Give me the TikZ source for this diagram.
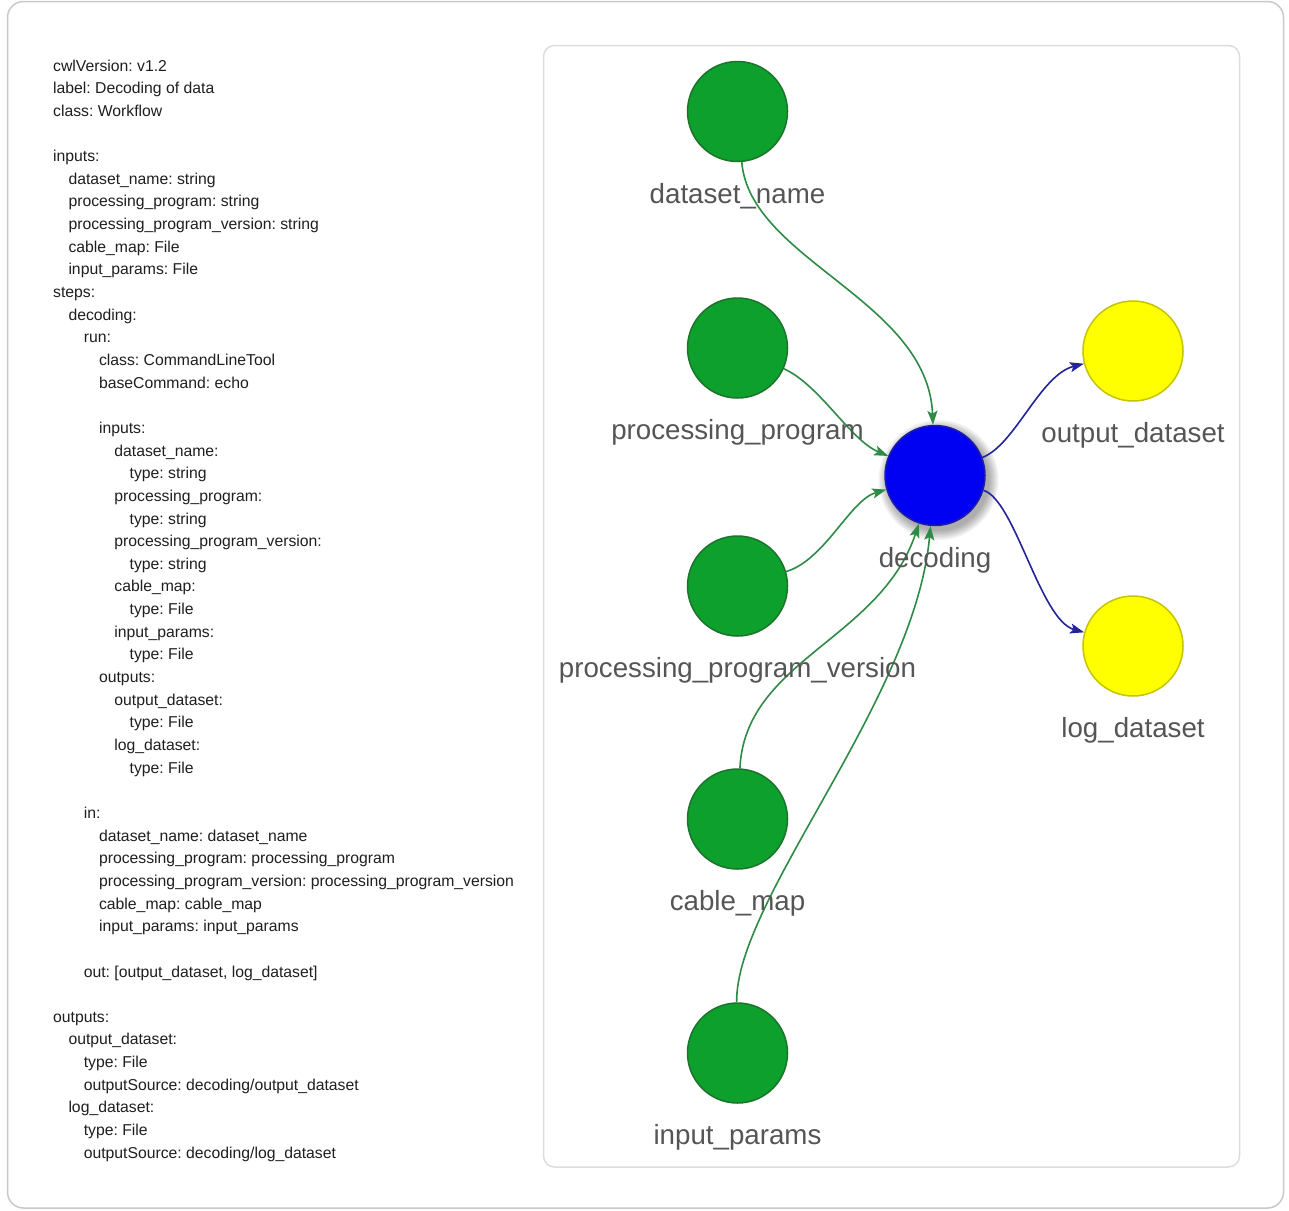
\documentclass[tikz,border=0pt]{standalone}
\usepackage{fontspec}
\setmainfont{Liberation Sans}
\usetikzlibrary{arrows.meta}
\frenchspacing

\definecolor{codeink}{HTML}{1F1F1F}
\definecolor{labelink}{HTML}{555555}
\definecolor{frameline}{HTML}{C9C9C9}
\definecolor{panelline}{HTML}{DDDDDD}
\definecolor{infill}{HTML}{0DA02C}
\definecolor{indraw}{HTML}{1C732C}
\definecolor{stepfill}{HTML}{0000F2}
\definecolor{stepdraw}{HTML}{1E1EA0}
\definecolor{outfill}{HTML}{FFFF00}
\definecolor{outdraw}{HTML}{C4C400}
\definecolor{greenedge}{HTML}{2E8B45}
\definecolor{blueedge}{HTML}{23239A}

\tikzset{
  codetext/.style={anchor=base west, inner sep=0pt, text=codeink, font=\fontsize{15.75}{18}\selectfont},
  glabel/.style={anchor=base, inner sep=0pt, text=labelink, font=\fontsize{27.7}{32}\selectfont},
  dot/.style={circle, minimum size=100pt, inner sep=0pt, line width=1.5pt},
  innode/.style={dot, fill=infill, draw=indraw},
  stepnode/.style={dot, fill=stepfill, draw=stepdraw},
  outnode/.style={dot, fill=outfill, draw=outdraw},
  softshadow/.style={fill=black, fill opacity=0.05},
  gedge/.style={draw=greenedge, line width=1.6pt, -{Stealth[length=14pt,width=10pt,inset=3pt]}},
  bedge/.style={draw=blueedge, line width=1.6pt, -{Stealth[length=14pt,width=10pt,inset=3pt]}},
}

% one line of the CWL listing: #1 line number, #2 indent level, #3 text
\newcommand{\codeline}[3]{\node[codetext] (code#1) at ({53+15.3*#2},{71+22.65*#1}) {#3};}

\begin{document}
\begin{tikzpicture}[x=1pt,y=-1pt]
\useasboundingbox (0,0) rectangle (1289,1210);
\fill[white] (0,0) rectangle (1289,1210);

% frames
\draw[frameline, line width=1.5pt, rounded corners=16pt] (7.5,1.5) rectangle (1283.5,1208);
\draw[panelline, line width=1.5pt, rounded corners=11pt] (543.5,45.5) rectangle (1239.5,1167);

% CWL listing
\codeline{0}{0}{cwlVersion: v1.2}
\codeline{1}{0}{label: Decoding of data}
\codeline{2}{0}{class: Workflow}
\codeline{4}{0}{inputs:}
\codeline{5}{1}{dataset\_name: string}
\codeline{6}{1}{processing\_program: string}
\codeline{7}{1}{processing\_program\_version: string}
\codeline{8}{1}{cable\_map: File}
\codeline{9}{1}{input\_params: File}
\codeline{10}{0}{steps:}
\codeline{11}{1}{decoding:}
\codeline{12}{2}{run:}
\codeline{13}{3}{class: CommandLineTool}
\codeline{14}{3}{baseCommand: echo}
\codeline{16}{3}{inputs:}
\codeline{17}{4}{dataset\_name:}
\codeline{18}{5}{type: string}
\codeline{19}{4}{processing\_program:}
\codeline{20}{5}{type: string}
\codeline{21}{4}{processing\_program\_version:}
\codeline{22}{5}{type: string}
\codeline{23}{4}{cable\_map:}
\codeline{24}{5}{type: File}
\codeline{25}{4}{input\_params:}
\codeline{26}{5}{type: File}
\codeline{27}{3}{outputs:}
\codeline{28}{4}{output\_dataset:}
\codeline{29}{5}{type: File}
\codeline{30}{4}{log\_dataset:}
\codeline{31}{5}{type: File}
\codeline{33}{2}{in:}
\codeline{34}{3}{dataset\_name: dataset\_name}
\codeline{35}{3}{processing\_program: processing\_program}
\codeline{36}{3}{processing\_program\_version: processing\_program\_version}
\codeline{37}{3}{cable\_map: cable\_map}
\codeline{38}{3}{input\_params: input\_params}
\codeline{40}{2}{out: [output\_dataset, log\_dataset]}
\codeline{42}{0}{outputs:}
\codeline{43}{1}{output\_dataset:}
\codeline{44}{2}{type: File}
\codeline{45}{2}{outputSource: decoding/output\_dataset}
\codeline{46}{1}{log\_dataset:}
\codeline{47}{2}{type: File}
\codeline{48}{2}{outputSource: decoding/log\_dataset}

% soft shadow under the step node
\foreach \r in {51,52.5,...,60}
  \path[softshadow] (938.5,480) circle[radius=\r pt];

% workflow graph: nodes
\node[innode] (nDataset) at (737.5,111.5) {};
\node[innode] (nProgram) at (737.5,348) {};
\node[innode] (nVersion) at (737.5,586) {};
\node[innode] (nCable) at (737.5,819) {};
\node[innode] (nParams) at (737.5,1053) {};
\node[stepnode] (nDecoding) at (935,475.5) {};
\node[outnode] (nOutput) at (1133,351) {};
\node[outnode] (nLog) at (1133,646) {};

% edges
\draw[gedge] (nDataset) .. controls (750,260) and (928,300) .. (nDecoding);
\draw[gedge] (nProgram) .. controls (820,385) and (850,440) .. (nDecoding);
\draw[gedge] (nVersion) .. controls (825,560) and (850,500) .. (nDecoding);
\draw[gedge] (nCable) .. controls (745,660) and (880,640) .. (nDecoding);
\draw[gedge] (nParams) .. controls (735,900) and (915,700) .. (nDecoding);
\draw[bedge] (nDecoding) .. controls (1015,445) and (1040,375) .. (nOutput);
\draw[bedge] (nDecoding) .. controls (1015,500) and (1040,620) .. (nLog);

% node labels
\node[glabel] (lDataset) at (737.5,203) {dataset\_name};
\node[glabel] (lProgram) at (737.5,439.5) {processing\_program};
\node[glabel] (lVersion) at (737.5,677.5) {processing\_program\_version};
\node[glabel] (lCable) at (737.5,910.5) {cable\_map};
\node[glabel] (lParams) at (737.5,1144.5) {input\_params};
\node[glabel] (lDecoding) at (935,567) {decoding};
\node[glabel] (lOutput) at (1133,442) {output\_dataset};
\node[glabel] (lLog) at (1133,737) {log\_dataset};
\end{tikzpicture}
\end{document}
